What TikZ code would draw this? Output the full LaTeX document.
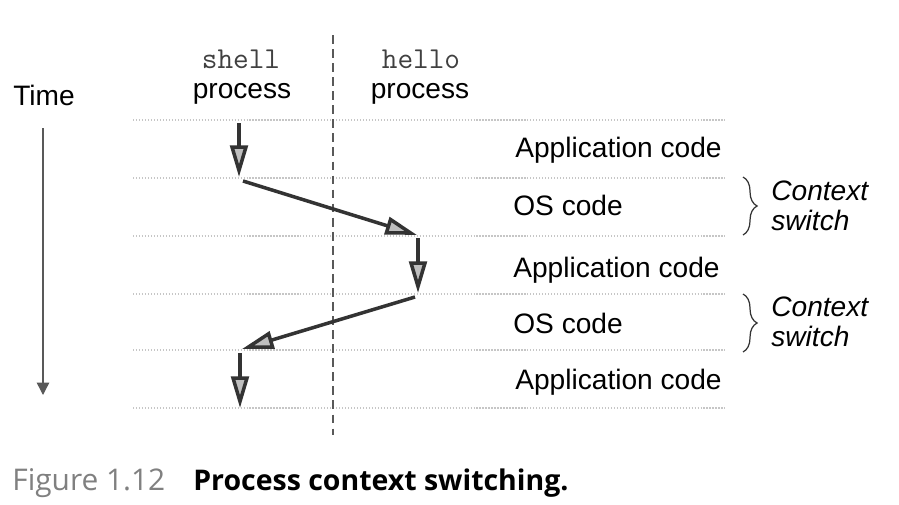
\documentclass[tikz,border=0pt]{standalone}
\usepackage{fontspec}
\setmainfont{Liberation Sans}
\newfontfamily\capfont{Open Sans}
\usetikzlibrary{arrows.meta,decorations.pathreplacing}

\begin{document}
\begin{tikzpicture}[x=0.02cm,y=-0.02cm,
    lbl/.style={font=\fontsize{16}{18}\selectfont,inner sep=0pt},
    band/.style={gray!45,line width=0.7pt,densely dotted},
    flow/.style={black!80,line width=2pt,-{Triangle[length=18pt,width=10pt,fill=gray!50]}},
    cbrace/.style={decorate,decoration={brace,amplitude=8pt},line width=0.7pt,black!80}]
    \useasboundingbox (0,0) rectangle (899,504);
    \fill[white] (0,0) rectangle (899,504);
    \foreach \y in {120,178,236,294,350,408}
        \draw[band] (133,\y) -- (725,\y);
    \draw[black!65,dashed,dash pattern=on 5pt off 3pt,line width=0.8pt] (333,35) -- (333,435);
    \node[lbl,anchor=base,font=\fontsize{17.3}{18}\ttfamily,text=black!75] (shell) at (241,68) {shell};
    \node[lbl,anchor=base] (shellp) at (242,98) {process};
    \node[lbl,anchor=base,font=\fontsize{17.3}{18}\ttfamily,text=black!75] (hello) at (421,68) {hello};
    \node[lbl,anchor=base] (hellop) at (420,98) {process};
    \node[lbl,anchor=base] (time) at (44,105) {Time};
    \coordinate (tstart) at (43,128);
    \coordinate (tend) at (43,395);
    \draw[gray!70!black,line width=0.8pt,-{Triangle[length=7pt,width=7pt]}] (tstart) -- (tend);
    \coordinate (a1) at (239,123);
    \coordinate (a2) at (239,177);
    \coordinate (b1) at (243,181);
    \coordinate (b2) at (417,235);
    \coordinate (c1) at (418,238);
    \coordinate (c2) at (418,293);
    \coordinate (d1) at (415,297);
    \coordinate (d2) at (242,349);
    \coordinate (e1) at (240,353);
    \coordinate (e2) at (240,408);
    \draw[flow] (a1) -- (a2);
    \draw[flow] (b1) -- (b2);
    \draw[flow] (c1) -- (c2);
    \draw[flow] (d1) -- (d2);
    \draw[flow] (e1) -- (e2);
    \node[lbl,anchor=base west] (app1) at (515,157) {Application code};
    \node[lbl,anchor=base west] (os1) at (513,215) {OS code};
    \node[lbl,anchor=base west] (app2) at (513,277) {Application code};
    \node[lbl,anchor=base west] (os2) at (513,333) {OS code};
    \node[lbl,anchor=base west] (app3) at (515,389) {Application code};
    \draw[cbrace] (743,177) -- (743,235);
    \draw[cbrace] (743,294) -- (743,352);
    \node[lbl,anchor=west,align=left,font=\itshape\fontsize{16}{17}\selectfont] (cs1) at (771,206) {Context\\switch};
    \node[lbl,anchor=west,align=left,font=\itshape\fontsize{16}{17}\selectfont] (cs2) at (771,322) {Context\\switch};
    \node[lbl,anchor=base west,font=\capfont\fontsize{17}{19}\selectfont,text=gray] (fig) at (12,490) {Figure 1.12};
    \node[lbl,anchor=base west,font=\capfont\bfseries\fontsize{16.2}{19}\selectfont] (cap) at (193,490) {Process context switching.};
\end{tikzpicture}
\end{document}
